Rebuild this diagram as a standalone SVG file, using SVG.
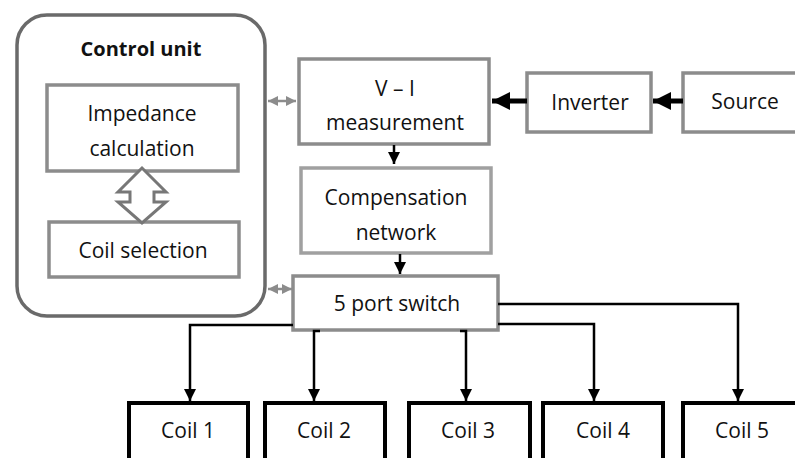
<svg xmlns="http://www.w3.org/2000/svg" width="795" height="458" viewBox="0 0 795 458">
<defs>
<style>
text{font-family:"Open Sans","Liberation Sans",sans-serif;font-size:21px;fill:#111;text-anchor:middle;dominant-baseline:central}
.b{font-weight:bold;font-size:20px}
.g{fill:#fff;stroke:#8c8c8c;stroke-width:3.5}
.k{fill:#fff;stroke:#000;stroke-width:4}
.c{fill:none;stroke:#000;stroke-width:2.5}
.t{fill:none;stroke:#000;stroke-width:5}
.d{fill:none;stroke:#8c8c8c;stroke-width:2.5}
</style>
<marker id="ah" viewBox="0 0 10 10" refX="10" refY="5" markerWidth="5" markerHeight="5" orient="auto" markerUnits="strokeWidth"><path d="M0,0L10,5L0,10z" fill="#000"/></marker>
<marker id="ahb" viewBox="0 0 10 10" refX="10" refY="5" markerWidth="3.6" markerHeight="3.6" orient="auto" markerUnits="strokeWidth"><path d="M0,0L10,5L0,10z" fill="#000"/></marker>
<marker id="gh" viewBox="0 0 10 10" refX="10" refY="5" markerWidth="4" markerHeight="4" orient="auto-start-reverse" markerUnits="strokeWidth"><path d="M0,0L10,5L0,10z" fill="#8c8c8c"/></marker>
</defs>
<g id="control-unit">
<rect x="17" y="15" width="248" height="301" rx="30" fill="#fff" stroke="#6a6a6a" stroke-width="3.5"/>
<text class="b" x="141" y="48">Control unit</text>
</g>
<g id="impedance">
<rect class="g" x="47" y="85" width="191" height="86"/>
<text x="142" y="113">Impedance</text>
<text x="142" y="148">calculation</text>
</g>
<g id="coil-selection">
<rect class="g" x="49" y="222" width="190" height="55"/>
<text x="143" y="250">Coil selection</text>
</g>
<g id="vi">
<rect class="g" x="299" y="59" width="190" height="85"/>
<text x="395" y="88">V – I</text>
<text x="395" y="122">measurement</text>
</g>
<g id="compensation">
<rect x="301" y="168" width="190" height="85" fill="#fff" stroke="#a0a0a0" stroke-width="3.5"/>
<text x="396" y="197">Compensation</text>
<text x="396" y="232">network</text>
</g>
<g id="switch">
<rect class="g" x="293" y="276" width="205" height="54"/>
<text x="397" y="303">5 port switch</text>
</g>
<g id="inverter">
<rect class="g" x="527" y="73" width="124" height="59"/>
<text x="590" y="102">Inverter</text>
</g>
<g id="source">
<rect class="g" x="683" y="73" width="130" height="59"/>
<text x="745" y="101">Source</text>
</g>
<g id="coil1"><rect class="k" x="129" y="403" width="119" height="70"/><text x="188" y="430">Coil 1</text></g>
<g id="coil2"><rect class="k" x="265" y="403" width="120" height="70"/><text x="324" y="430">Coil 2</text></g>
<g id="coil3"><rect class="k" x="409" y="403" width="121" height="70"/><text x="468" y="430">Coil 3</text></g>
<g id="coil4"><rect class="k" x="543" y="403" width="120" height="70"/><text x="603" y="430">Coil 4</text></g>
<g id="coil5"><rect class="k" x="683" y="403" width="130" height="70"/><text x="742" y="430">Coil 5</text></g>
<g id="connectors">
<path d="M142,168L118,192L130,192L130,202L118,202L142,223L166,202L154,202L154,192L166,192Z" fill="#fff" stroke="#777" stroke-width="3" stroke-linejoin="miter"/>
<line class="d" x1="268" y1="101" x2="296" y2="101" marker-start="url(#gh)" marker-end="url(#gh)"/>
<line class="d" x1="268" y1="289" x2="292" y2="289" marker-start="url(#gh)" marker-end="url(#gh)"/>
<line class="t" x1="527" y1="101" x2="492" y2="101" marker-end="url(#ahb)"/>
<line class="t" x1="683" y1="101" x2="653" y2="101" marker-end="url(#ahb)"/>
<line class="c" x1="394" y1="145" x2="394" y2="164" marker-end="url(#ah)"/>
<line class="c" x1="400" y1="254" x2="400" y2="274" marker-end="url(#ah)"/>
<path class="c" d="M293,325H190V401" marker-end="url(#ah)"/>
<path class="c" d="M320,331H314V401" marker-end="url(#ah)"/>
<path class="c" d="M460,331H466V401" marker-end="url(#ah)"/>
<path class="c" d="M498,324H594V401" marker-end="url(#ah)"/>
<path class="c" d="M498,304H738V401" marker-end="url(#ah)"/>
</g>
</svg>
